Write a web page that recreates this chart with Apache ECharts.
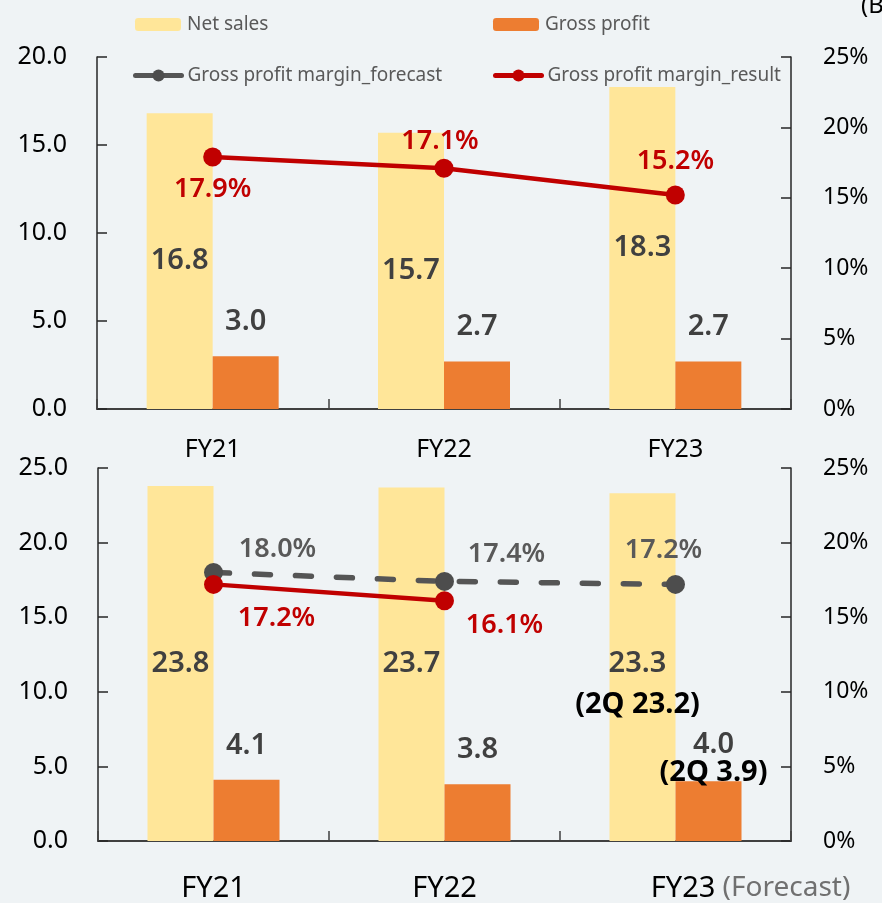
<!DOCTYPE html>
<html>
<head>
<meta charset="utf-8">
<script src="https://cdn.jsdelivr.net/npm/echarts@6/dist/echarts.min.js"></script>
<style>
  html, body { margin: 0; padding: 0; background: #eff3f5; }
  #chart { width: 882px; height: 903px; }
</style>
</head>
<body>
<div id="chart"></div>
<script>
// Fiscal-year categories
const categories = ['FY21', 'FY22', 'FY23'];

// Upper panel: results (billion yen / %)
const netSalesTop = [16.8, 15.7, 18.3];
const grossProfitTop = [3.0, 2.7, 2.7];
const marginResultTop = [17.9, 17.1, 15.2];

// Lower panel: full-year plan (billion yen / %)
const netSalesBottom = [23.8, 23.7, 23.3];
const grossProfitBottom = [4.1, 3.8, 4.0];
const marginForecastBottom = [18.0, 17.4, 17.2];
const marginResultBottom = [17.2, 16.1, null];

// Second-quarter revised figures shown under the FY23 plan
const netSales2Q = [null, null, 23.2];
const grossProfit2Q = [null, null, 3.9];

// Axis ranges
const leftMaxTop = 20;
const leftMaxBottom = 25;
const rightMax = 25;

const FONT = "'Noto Sans', 'Open Sans', sans-serif";
const C_NET = '#ffe699';
const C_GROSS = '#ed7d31';
const C_RED = '#c00000';
const C_GRAY = '#595959';
const C_VAL = '#404040';

const chart = echarts.init(document.getElementById('chart'));

function valueAxis(gridIndex, position, max, isPct) {
  return {
    type: 'value', gridIndex, position, min: 0, max, interval: 5,
    splitLine: { show: false },
    axisLine: { show: true, lineStyle: { color: '#262626', width: 1.5 } },
    axisTick: { show: true, inside: true, length: 10, lineStyle: { color: '#262626', width: 1.5 } },
    axisLabel: {
      color: '#000', fontFamily: FONT, fontSize: isPct ? 23 : 25,
      margin: position === 'left' ? 30 : 32,
      formatter: v => isPct ? v + '%' : v.toFixed(1)
    }
  };
}

function categoryAxis(gridIndex, bottomPanel) {
  return {
    type: 'category', gridIndex, data: categories,
    axisLine: { lineStyle: { color: '#404040', width: 2 } },
    axisTick: { show: true, inside: true, length: 10, lineStyle: { color: '#404040', width: 1.5 } },
    axisLabel: {
      interval: 0,
      margin: bottomPanel ? 33 : 28,
      color: '#000', fontFamily: FONT, fontSize: bottomPanel ? 29 : 25,
      formatter: v => (bottomPanel && v === 'FY23') ? '{s|}' + v + '{f| (Forecast)}' : v,
      rich: {
        s: { width: 150 },
        f: { color: '#707070', fontSize: 28, fontFamily: FONT }
      }
    }
  };
}

const valueLabel = { color: C_VAL, fontFamily: FONT, fontSize: 29, fontWeight: 600 };
const qLabel = { color: '#000', fontFamily: FONT, fontSize: 29, fontWeight: 'bold' };

function pctLabels(values, offsets, color) {
  return values.map((v, i) => v == null ? null : {
    value: v,
    label: { show: true, position: 'inside', offset: offsets[i], color, fontFamily: FONT, fontSize: 27, fontWeight: 600,
             formatter: p => p.value.toFixed(1) + '%' }
  });
}

const legendBase = {
  padding: 0, itemWidth: 46, itemHeight: 13, itemGap: 6,
  textStyle: { color: C_GRAY, fontFamily: FONT, fontSize: 19, padding: [0, 0, 0, 1] }
};
const legendLineStyle = { width: 5, type: 'solid', cap: 'round' };

const option = {
  backgroundColor: '#eff3f5',
  animation: false,
  legend: [
    Object.assign({ data: ['Net sales'], left: 135, top: 15 }, legendBase),
    Object.assign({ data: ['Gross profit'], left: 493, top: 15 }, legendBase),
    Object.assign({ data: ['Gross profit margin_forecast'], left: 133, top: 66, lineStyle: legendLineStyle, itemHeight: 15 }, legendBase, { itemHeight: 15 }),
    Object.assign({ data: ['Gross profit margin_result'], left: 493, top: 66, lineStyle: legendLineStyle }, legendBase, { itemHeight: 15 })
  ],
  graphic: [{
    type: 'text', left: 861, top: -6,
    style: { text: '(Billion yen)', fill: '#000', font: "24px 'Noto Sans'" }
  }],
  grid: [
    { left: 97, right: 91, top: 57, height: 352 },
    { left: 98, right: 91, top: 468, height: 373 }
  ],
  xAxis: [categoryAxis(0, false), categoryAxis(1, true)],
  yAxis: [
    valueAxis(0, 'left', leftMaxTop, false),
    valueAxis(0, 'right', rightMax, true),
    valueAxis(1, 'left', leftMaxBottom, false),
    valueAxis(1, 'right', rightMax, true)
  ],
  series: [
    {
      name: 'Net sales', type: 'bar', xAxisIndex: 0, yAxisIndex: 0,
      data: netSalesTop, barWidth: 66, barGap: '0%', itemStyle: { color: C_NET },
      label: Object.assign({ show: true, position: 'inside', formatter: p => p.value.toFixed(1) }, valueLabel)
    },
    {
      name: 'Gross profit', type: 'bar', xAxisIndex: 0, yAxisIndex: 0,
      data: grossProfitTop, barWidth: 66, barGap: '0%', itemStyle: { color: C_GROSS },
      label: Object.assign({ show: true, position: 'top', distance: 20, formatter: p => p.value.toFixed(1) }, valueLabel)
    },
    {
      name: 'Gross profit margin_result', type: 'line', xAxisIndex: 0, yAxisIndex: 1, z: 5,
      data: pctLabels(marginResultTop, [[0, 32], [-4, -27], [0, -34]], C_RED),
      symbol: 'circle', symbolSize: 19,
      lineStyle: { color: C_RED, width: 4.5 }, itemStyle: { color: C_RED }
    },
    {
      name: 'Net sales', type: 'bar', xAxisIndex: 1, yAxisIndex: 2,
      data: netSalesBottom.map((v, i) => netSales2Q[i] == null ? v : {
        value: v,
        label: { offset: [-5, 23], formatter: '{v|' + v.toFixed(1) + '}\n{q|(2Q ' + netSales2Q[i].toFixed(1) + ')}' }
      }),
      barWidth: 66, barGap: '0%', itemStyle: { color: C_NET },
      label: Object.assign({
        show: true, position: 'inside', formatter: p => p.value.toFixed(1),
        rich: {
          v: Object.assign({ lineHeight: 30 }, valueLabel),
          q: Object.assign({ lineHeight: 52 }, qLabel)
        }
      }, valueLabel)
    },
    {
      name: 'Gross profit', type: 'bar', xAxisIndex: 1, yAxisIndex: 2,
      data: grossProfitBottom.map((v, i) => grossProfit2Q[i] == null ? v : {
        value: v,
        label: { distance: -4, offset: [5, 0], formatter: '{v|' + v.toFixed(1) + '}\n{q|(2Q ' + grossProfit2Q[i].toFixed(1) + ')}' }
      }),
      barWidth: 66, barGap: '0%', itemStyle: { color: C_GROSS },
      label: Object.assign({
        show: true, position: 'top', distance: 20, formatter: p => p.value.toFixed(1),
        rich: {
          v: Object.assign({ lineHeight: 30 }, valueLabel),
          q: Object.assign({ lineHeight: 26 }, qLabel)
        }
      }, valueLabel)
    },
    {
      name: 'Gross profit margin_forecast', type: 'line', xAxisIndex: 1, yAxisIndex: 3, z: 5,
      data: pctLabels(marginForecastBottom, [[64, -23], [62, -27], [-12, -34]], C_GRAY),
      symbol: 'circle', symbolSize: 19,
      lineStyle: { color: '#555555', width: 5.5, type: [16, 25], cap: 'round' }, itemStyle: { color: '#4d4d4d' }
    },
    {
      name: 'Gross profit margin_result', type: 'line', xAxisIndex: 1, yAxisIndex: 3, z: 6,
      data: pctLabels(marginResultBottom, [[63, 34], [60, 25], [0, 0]], C_RED),
      symbol: 'circle', symbolSize: 19,
      lineStyle: { color: C_RED, width: 4.5 }, itemStyle: { color: C_RED }
    }
  ]
};

chart.setOption(option);
</script>
</body>
</html>
